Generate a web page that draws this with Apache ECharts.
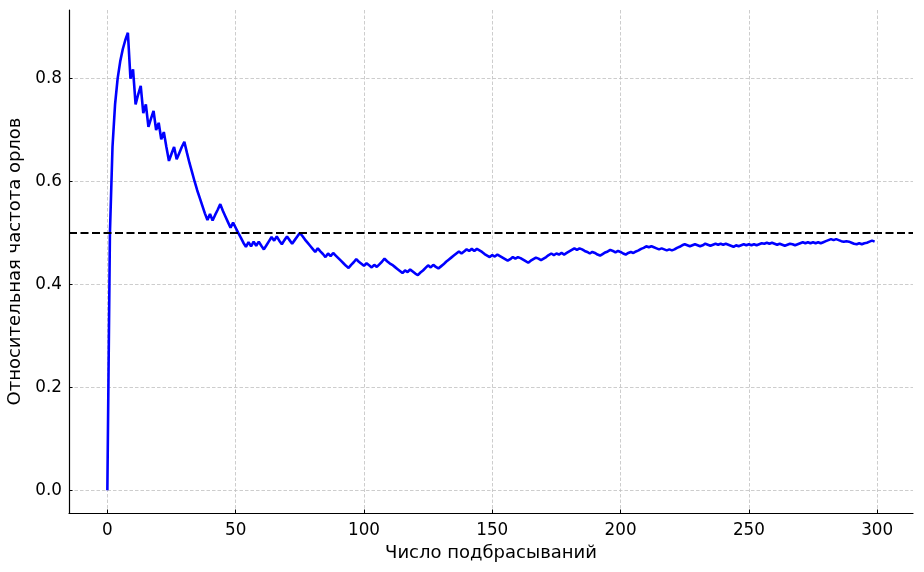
<!DOCTYPE html>
<html><head><meta charset="utf-8">
<script src="https://cdn.jsdelivr.net/npm/echarts@6/dist/echarts.min.js"></script>
<style>html,body{margin:0;padding:0;background:#fff}#c{width:924px;height:572px}</style>
</head><body><div id="c"></div>
<script>
const xTicks = [0, 50, 100, 150, 200, 250, 300];
const yTicks = [0, 0.2, 0.4, 0.6, 0.8];
const refLevel = 0.5;
const xName = 'Число подбрасываний';
const yName = 'Относительная частота орлов';
// relative frequency of heads after each toss (index = toss number, starting at 0)
const freq = [
  0, 0.5, 0.667, 0.75, 0.8, 0.833, 0.857, 0.875, 0.889, 0.8,
  0.818, 0.75, 0.769, 0.786, 0.733, 0.75, 0.706, 0.722, 0.737, 0.7,
  0.714, 0.682, 0.696, 0.667, 0.64, 0.654, 0.667, 0.643, 0.655, 0.667,
  0.677, 0.656, 0.636, 0.618, 0.6, 0.583, 0.568, 0.553, 0.538, 0.525,
  0.537, 0.524, 0.535, 0.545, 0.556, 0.543, 0.532, 0.521, 0.51, 0.52,
  0.51, 0.5, 0.491, 0.481, 0.473, 0.482, 0.474, 0.483, 0.475, 0.483,
  0.475, 0.468, 0.476, 0.484, 0.492, 0.485, 0.493, 0.485, 0.478, 0.486,
  0.493, 0.486, 0.479, 0.486, 0.493, 0.5, 0.494, 0.487, 0.481, 0.475,
  0.469, 0.463, 0.47, 0.464, 0.459, 0.453, 0.46, 0.455, 0.461, 0.456,
  0.451, 0.446, 0.441, 0.436, 0.432, 0.438, 0.443, 0.449, 0.444, 0.44,
  0.436, 0.441, 0.437, 0.433, 0.438, 0.434, 0.439, 0.444, 0.45, 0.445,
  0.441, 0.438, 0.434, 0.43, 0.426, 0.422, 0.427, 0.424, 0.429, 0.425,
  0.421, 0.418, 0.423, 0.427, 0.432, 0.437, 0.433, 0.438, 0.434, 0.431,
  0.435, 0.439, 0.444, 0.448, 0.452, 0.456, 0.46, 0.464, 0.46, 0.464,
  0.468, 0.465, 0.469, 0.465, 0.469, 0.466, 0.463, 0.459, 0.456, 0.453,
  0.457, 0.454, 0.458, 0.455, 0.452, 0.449, 0.446, 0.449, 0.453, 0.45,
  0.453, 0.451, 0.448, 0.445, 0.442, 0.446, 0.449, 0.452, 0.45, 0.447,
  0.45, 0.453, 0.457, 0.46, 0.457, 0.46, 0.458, 0.461, 0.458, 0.461,
  0.464, 0.467, 0.47, 0.467, 0.47, 0.468, 0.465, 0.463, 0.46, 0.463,
  0.461, 0.458, 0.456, 0.459, 0.462, 0.464, 0.467, 0.465, 0.462, 0.465,
  0.463, 0.46, 0.458, 0.461, 0.463, 0.461, 0.464, 0.466, 0.469, 0.471,
  0.474, 0.472, 0.474, 0.472, 0.47, 0.468, 0.47, 0.468, 0.466, 0.468,
  0.466, 0.468, 0.471, 0.473, 0.476, 0.478, 0.476, 0.474, 0.476, 0.478,
  0.476, 0.474, 0.476, 0.479, 0.477, 0.475, 0.477, 0.479, 0.477, 0.479,
  0.477, 0.479, 0.477, 0.475, 0.473, 0.476, 0.474, 0.476, 0.478, 0.476,
  0.478, 0.476, 0.478, 0.476, 0.478, 0.48, 0.479, 0.481, 0.479, 0.481,
  0.479, 0.477, 0.479, 0.477, 0.475, 0.477, 0.479, 0.478, 0.476, 0.478,
  0.48, 0.482, 0.48, 0.482, 0.48, 0.482, 0.48, 0.482, 0.48, 0.482,
  0.484, 0.486, 0.488, 0.486, 0.488, 0.486, 0.484, 0.483, 0.484, 0.483,
  0.481, 0.479, 0.478, 0.48, 0.478, 0.48, 0.481, 0.483, 0.485, 0.483
];

const font = 'DejaVu Sans';
const chart = echarts.init(document.getElementById('c'), null, {renderer: 'canvas'});
const gridLine = {show: true, lineStyle: {color: '#c0c0c0', type: [3.5, 2], width: 0.8}};
const tick = vals => ({show: true, inside: true, length: 3.5, customValues: vals, lineStyle: {color: '#000', width: 1}});
chart.setOption({
  animation: false,
  backgroundColor: '#fff',
  grid: {left: 69, right: 11, top: 10, bottom: 59, containLabel: false, outerBoundsMode: 'none'},
  xAxis: {
    type: 'value', min: -14.95, max: 313.95,
    axisLine: {onZero: false, lineStyle: {color: '#000', width: 1.2}},
    axisTick: tick(xTicks),
    axisLabel: {customValues: xTicks, color: '#000', fontSize: 16.8, fontFamily: font, margin: 9},
    splitLine: gridLine,
    name: xName, nameLocation: 'middle', nameGap: 30,
    nameTextStyle: {color: '#000', fontSize: 18, fontFamily: font}
  },
  yAxis: {
    type: 'value', min: -0.0444, max: 0.9333,
    axisLine: {show: true, onZero: false, lineStyle: {color: '#000', width: 1.2}},
    axisTick: tick(yTicks),
    axisLabel: {customValues: yTicks, color: '#000', fontSize: 16.8, fontFamily: font, margin: 7,
      formatter: v => Number(v).toFixed(1)},
    splitLine: gridLine,
    name: yName, nameLocation: 'middle', nameGap: 37,
    nameTextStyle: {color: '#000', fontSize: 18, fontFamily: font}
  },
  series: [{
    type: 'line',
    data: freq.map((v, i) => [i, v]),
    showSymbol: false, symbol: 'none',
    lineStyle: {color: '#0000ff', width: 2.6},
    itemStyle: {color: '#0000ff'},
    z: 2,
    markLine: {
      silent: true, symbol: 'none', label: {show: false},
      lineStyle: {color: '#000', type: [8, 3.5], width: 2},
      data: [{yAxis: refLevel}],
      z: 3
    }
  }]
});
</script>
</body></html>
